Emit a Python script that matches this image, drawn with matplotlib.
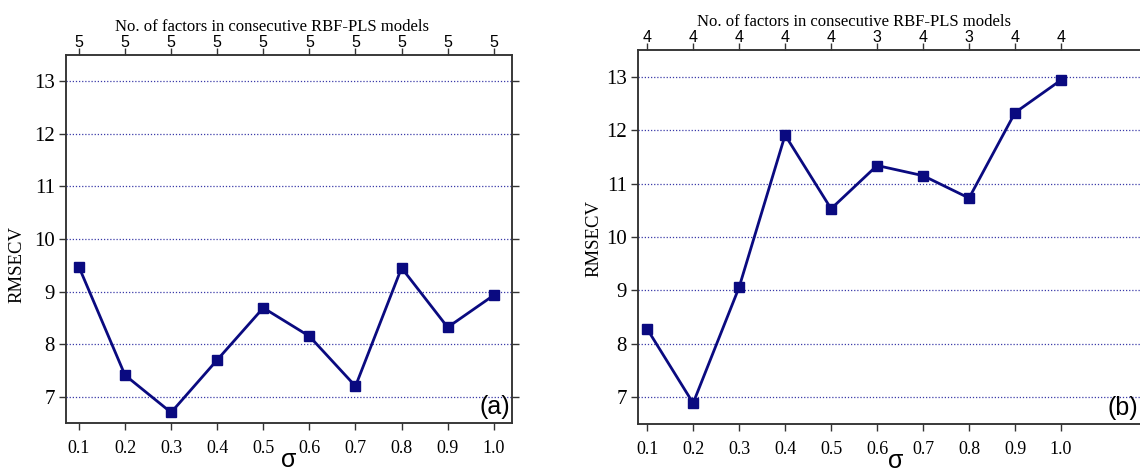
import matplotlib
matplotlib.use('Agg')
from matplotlib import pyplot as plt
from matplotlib import transforms

sigma = [0.1, 0.2, 0.3, 0.4, 0.5, 0.6, 0.7, 0.8, 0.9, 1.0]
sigma_labels = ['0.1', '0.2', '0.3', '0.4', '0.5', '0.6', '0.7', '0.8', '0.9', '1.0']
rmsecv_a = [9.47, 7.41, 6.70, 7.70, 8.69, 8.15, 7.20, 9.45, 8.32, 8.93]
rmsecv_b = [8.28, 6.89, 9.06, 11.91, 10.53, 11.34, 11.15, 10.73, 12.33, 12.94]
factors_a = ['5', '5', '5', '5', '5', '5', '5', '5', '5', '5']
factors_b = ['4', '4', '4', '4', '4', '3', '4', '3', '4', '4']

navy = '#0a0a80'
serif = 'Liberation Serif'
sans = 'Liberation Sans'

fig = plt.figure(figsize=(11.4, 4.75), dpi=100)
ax1 = fig.add_axes([0.0579, 0.1095, 0.391, 0.7747])
ax2 = fig.add_axes([0.5596, 0.1074, 0.4518, 0.787])

# axes, values, top labels, tag, xlim, tag x (data), ylabel pos, title x
panels = [(ax1, rmsecv_a, factors_a, '(a)', (0.072, 1.039), 1.035, (-0.09, 0.43), 0.462),
          (ax2, rmsecv_b, factors_b, '(b)', (0.08, 1.2), 1.167, (-0.068, 0.497), 0.419)]

for ax, vals, facs, tag, xl, tagx, lpos, tx in panels:
    ax.plot(sigma, vals, color=navy, lw=2.0, marker='s', ms=6.5, zorder=3)
    ax.set_xlim(*xl); ax.set_ylim(6.5, 13.5)
    ax.set_xticks(sigma); ax.set_xticklabels(sigma_labels, family=serif, fontsize=13)
    ax.set_yticks(range(7, 14))
    ax.set_yticklabels([str(v) for v in range(7, 14)], family=serif, fontsize=15)
    ax.tick_params(direction='out', length=5, width=1, color='#333333', pad=3)
    ax.tick_params(axis='x', pad=7)
    ax.tick_params(axis='y', right=True)
    ax.yaxis.grid(True, linestyle=(0, (1, 1.5)), color='#3a3aa8', lw=0.9)
    ax.set_ylabel('RMSECV', family=serif, fontsize=13.5)
    ax.yaxis.set_label_coords(*lpos)
    ax.set_xlabel('σ', family=sans, fontsize=18, labelpad=-6)
    tr = transforms.blended_transform_factory(ax.transData, ax.transAxes)
    ax.text(tagx, 0.01, tag, transform=tr, ha='right', va='bottom', family=sans, fontsize=18)
    for s in ax.spines.values():
        s.set_color('#333333'); s.set_linewidth(1.1)
    top = ax.twiny()
    top.set_xlim(ax.get_xlim())
    top.set_xticks(sigma); top.set_xticklabels(facs, family=sans, fontsize=11.5)
    top.tick_params(direction='out', length=5, width=1, color='#333333', pad=-1.5)
    top.set_xlabel('No. of factors in consecutive RBF-PLS models', family=serif, fontsize=12)
    top.xaxis.set_label_coords(tx, 1.064)
    for s in top.spines.values():
        s.set_color('#333333'); s.set_linewidth(1.1)

fig.savefig('out.png', dpi=100)
